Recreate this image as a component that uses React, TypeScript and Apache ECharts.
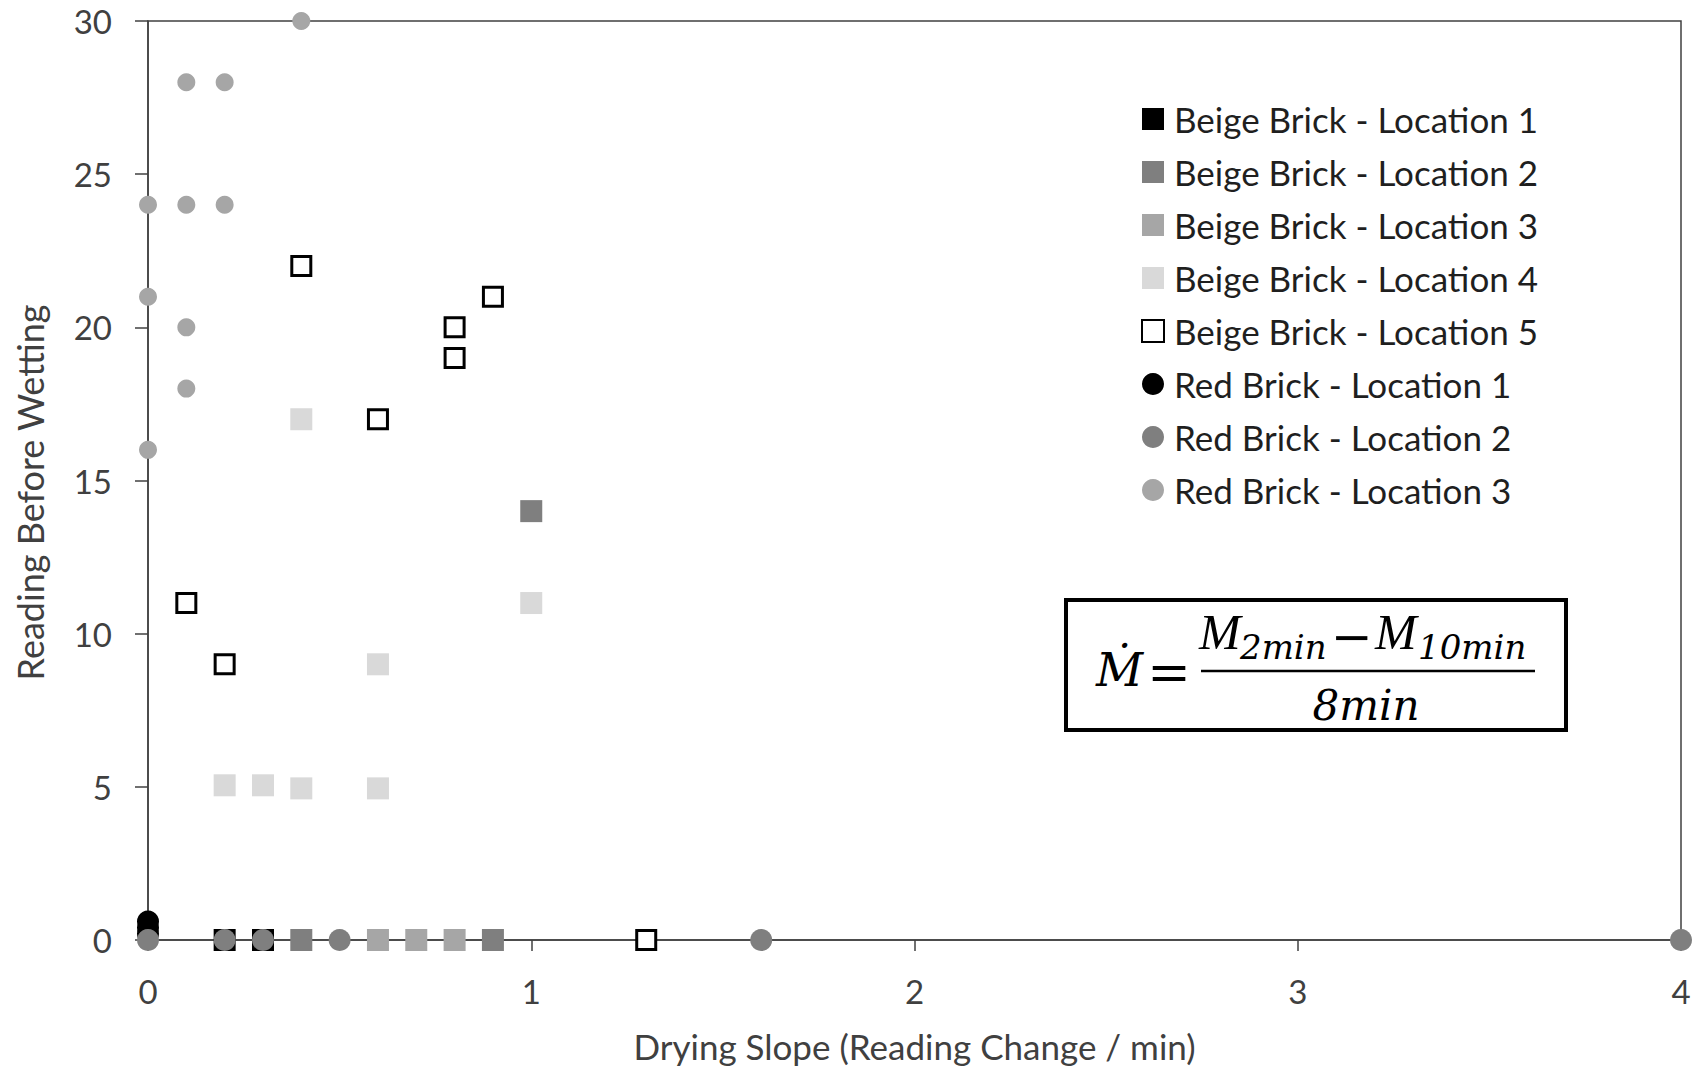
import React, { useEffect, useRef } from "react";
import * as echarts from "echarts";

const seriesNames = [
  "Beige Brick - Location 1",
  "Beige Brick - Location 2",
  "Beige Brick - Location 3",
  "Beige Brick - Location 4",
  "Beige Brick - Location 5",
  "Red Brick - Location 1",
  "Red Brick - Location 2",
  "Red Brick - Location 3",
];

const beige1: number[][] = [[0.2, 0], [0.3, 0]];
const beige2: number[][] = [[0.4, 0], [0.9, 0], [1.0, 14]];
const beige3: number[][] = [[0.6, 0], [0.7, 0], [0.8, 0]];
const beige4: number[][] = [[0.4, 17], [0.6, 9], [1.0, 11], [0.2, 5.05], [0.3, 5.05], [0.4, 4.95], [0.6, 4.95]];
const beige5: number[][] = [[0.1, 11], [0.2, 9], [0.4, 22], [0.6, 17], [0.8, 20], [0.8, 19], [0.9, 21], [1.3, 0]];
const red1: number[][] = [[0, 0.6], [0, 0.4], [0, 0.2]];
const red2: number[][] = [[0, 0], [0.2, 0], [0.3, 0], [0.5, 0], [1.6, 0], [4.0, 0]];
const red3: number[][] = [[0.4, 30], [0.1, 28], [0.2, 28], [0, 24], [0.1, 24], [0.2, 24], [0, 21], [0.1, 20], [0.1, 18], [0, 16]];

const xTicks = { min: 0, max: 4, interval: 1 };
const yTicks = { min: 0, max: 30, interval: 5 };

const FONT = "Lato";
const SERIF = "DejaVu Serif";
const SERIF2 = "Liberation Serif";

export default function App() {
  const ref = useRef<HTMLDivElement>(null);
  useEffect(() => {
    if (!ref.current) return;
    const chart = echarts.init(ref.current, null, { renderer: "svg" });
    const mk = (name: string, data: number[][], symbol: string, size: number, style: any) => ({
      name,
      type: "scatter",
      data,
      symbol,
      symbolSize: size,
      itemStyle: { opacity: 1, ...style },
      emphasis: { disabled: true },
    });
    const series = [
      mk(seriesNames[0], beige1, "rect", 22, { color: "#000000" }),
      mk(seriesNames[1], beige2, "rect", 22, { color: "#7f7f7f" }),
      mk(seriesNames[2], beige3, "rect", 22, { color: "#a6a6a6" }),
      mk(seriesNames[3], beige4, "rect", 22, { color: "#d9d9d9" }),
      mk(seriesNames[4], beige5, "rect", 19, { color: "#ffffff", borderColor: "#000000", borderWidth: 3 }),
      mk(seriesNames[5], red1, "circle", 22, { color: "#000000" }),
      mk(seriesNames[6], red2, "circle", 22, { color: "#7f7f7f" }),
      mk(seriesNames[7], red3, "circle", 18, { color: "#a6a6a6" }),
    ];
    const axisColor = "#404040";
    const txt = (text: string, x: number, y: number, size: number, align: string, italic = true, family = SERIF) => ({
      type: "text",
      x,
      y,
      z: 101,
      style: {
        text,
        fontFamily: family,
        fontSize: size,
        fontStyle: italic ? "italic" : "normal",
        fill: "#000",
        align,
        verticalAlign: "middle",
      },
    });
    chart.setOption({
      animation: false,
      backgroundColor: "#ffffff",
      grid: {
        left: 148,
        right: 23,
        top: 21,
        bottom: 127,
        show: true,
        borderColor: axisColor,
        borderWidth: 1.5,
        containLabel: false,
      },
      legend: {
        orient: "vertical",
        left: 1136,
        top: 94,
        itemWidth: 22,
        itemHeight: 22,
        itemGap: 13,
        selectedMode: false,
        data: seriesNames,
        textStyle: {
          fontFamily: FONT,
          fontSize: 35,
          color: "#1f1f1f",
          lineHeight: 40,
          padding: [0, 0, 0, 5],
        },
      },
      xAxis: {
        type: "value",
        min: xTicks.min,
        max: xTicks.max,
        interval: xTicks.interval,
        name: "Drying Slope (Reading Change / min)",
        nameLocation: "middle",
        nameGap: 88,
        nameTextStyle: { fontFamily: FONT, fontSize: 35, color: axisColor },
        axisLine: { show: true, onZero: false, lineStyle: { color: axisColor, width: 1.5 } },
        axisTick: { show: true, inside: false, length: 11, lineStyle: { color: axisColor, width: 1.5 } },
        axisLabel: { fontFamily: FONT, fontSize: 33, color: axisColor, margin: 34 },
        splitLine: { show: false },
      },
      yAxis: {
        type: "value",
        min: yTicks.min,
        max: yTicks.max,
        interval: yTicks.interval,
        name: "Reading Before Wetting",
        nameLocation: "middle",
        nameGap: 100,
        nameRotate: 90,
        nameTextStyle: { fontFamily: FONT, fontSize: 36, color: axisColor, padding: [0, 24, 0, 0] },
        axisLine: { show: true, lineStyle: { color: axisColor, width: 1.5 } },
        axisTick: { show: true, inside: false, length: 13, lineStyle: { color: axisColor, width: 1.5 } },
        axisLabel: { fontFamily: FONT, fontSize: 33, color: axisColor, margin: 36 },
        splitLine: { show: false },
      },
      series,
      graphic: [
        {
          type: "rect",
          z: 100,
          shape: { x: 1066, y: 600, width: 500, height: 130 },
          style: { fill: "#ffffff", stroke: "#000000", lineWidth: 4 },
        },
        txt("Ṁ", 1096, 670, 46, "left"),
        txt("=", 1169, 672, 52, "center", false),
        {
          type: "line",
          z: 101,
          shape: { x1: 1201, y1: 671, x2: 1535, y2: 671 },
          style: { stroke: "#000", lineWidth: 2.5 },
        },
        txt("M", 1199, 632, 50, "left", true, SERIF2),
        txt("2min", 1240, 647, 34, "left"),
        txt("−", 1352, 637, 50, "center", false),
        txt("M", 1375, 632, 50, "left", true, SERIF2),
        txt("10min", 1418, 647, 34, "left"),
        txt("8min", 1366, 705, 42, "center"),
      ],
    });
    return () => chart.dispose();
  }, []);
  return (
    <div
      ref={ref}
      style={{ position: "absolute", left: 0, top: 0, width: 1704, height: 1068 }}
    />
  );
}
